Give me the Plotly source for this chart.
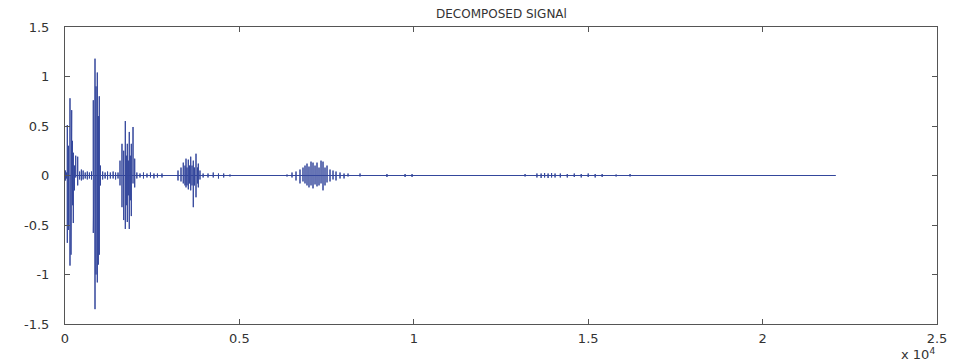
import plotly.graph_objects as go

# Signal: each spike has a sample index, top and bottom value
spike_x = [0, 15, 40, 66, 100, 143, 172, 192, 215, 238, 272, 307, 364,
           420, 470, 520, 580, 640, 700, 760,
           811, 831, 860, 889, 926, 955, 983, 1018,
           1080, 1150, 1220, 1300, 1380, 1450, 1520,
           1577, 1634, 1683, 1729, 1758, 1786, 1815, 1843, 1872, 1901, 1950, 1998,
           2060, 2150, 2250, 2350, 2450, 2550, 2650, 2780,
           3240, 3326, 3391, 3440, 3469, 3498, 3535, 3570, 3604, 3641, 3678, 3713, 3756, 3799, 3822, 3870,
           3960, 4100, 4250, 4400, 4550, 4730,
           6365, 6508, 6623, 6737, 6823, 6881, 6938, 6995, 7053, 7110, 7168, 7225, 7282, 7340, 7397,
           7454, 7512, 7598, 7684, 7770, 7885, 8000, 8114, 8458,
           9230, 9750, 9950,
           13190, 13530, 13650, 13750, 13850, 13950, 14050, 14200, 14400, 14600, 14800, 15000, 15200, 15400, 15800, 16200,
           22100]
spike_hi = [0, 0.05, 0.03, 0.51, 0.30, 0.78, 0.55, 0.66, 0.35, 0.23, 0.10, 0.20, 0.19,
            0.04, 0.06, 0.05, 0.03, 0.04, 0.03, 0.04,
            0.76, 0.50, 1.18, 0.90, 1.04, 0.60, 0.80, 0.10,
            0.04, 0.03, 0.04, 0.03, 0.04, 0.03, 0.03,
            0.15, 0.32, 0.25, 0.55, 0.20, 0.32, 0.15, 0.44, 0.20, 0.32, 0.49, 0.17,
            0.03, 0.02, 0.03, 0.02, 0.03, 0.02, 0.02, 0.02,
            0.05, 0.08, 0.13, 0.10, 0.17, 0.08, 0.16, 0.10, 0.19, 0.10, 0.15, 0.08, 0.22, 0.08, 0.12, 0.05,
            0.02, 0.02, 0.03, 0.02, 0.02, 0.01,
            0.01, 0.03, 0.04, 0.06, 0.08, 0.10, 0.12, 0.09, 0.14, 0.13, 0.10, 0.13, 0.08, 0.15, 0.14,
            0.08, 0.10, 0.06, 0.05, 0.04, 0.03, 0.02, 0.02, 0.02,
            0.015, 0.015, 0.015,
            0.015, 0.02, 0.02, 0.025, 0.02, 0.025, 0.02, 0.02, 0.015, 0.02, 0.015, 0.02, 0.015, 0.015, 0.01, 0.015,
            0]
spike_lo = [0, -0.05, -0.03, -0.68, -0.55, -0.91, -0.80, -0.74, -0.30, -0.48, -0.15, -0.02, -0.10,
            -0.04, -0.05, -0.04, -0.03, -0.04, -0.03, -0.04,
            -0.58, -0.30, -1.35, -1.00, -1.08, -0.90, -0.80, -0.10,
            -0.04, -0.03, -0.04, -0.03, -0.03, -0.04, -0.03,
            -0.10, -0.32, -0.45, -0.54, -0.30, -0.47, -0.20, -0.54, -0.25, -0.41, -0.08, -0.12,
            -0.03, -0.02, -0.03, -0.02, -0.02, -0.03, -0.02, -0.02,
            -0.05, -0.06, -0.08, -0.10, -0.12, -0.10, -0.14, -0.08, -0.15, -0.10, -0.32, -0.10, -0.22, -0.08, -0.12, -0.04,
            -0.02, -0.02, -0.02, -0.03, -0.02, -0.01,
            -0.01, -0.02, -0.05, -0.08, -0.06, -0.08, -0.10, -0.12, -0.10, -0.13, -0.09, -0.11, -0.10, -0.08, -0.15,
            -0.10, -0.07, -0.06, -0.04, -0.05, -0.03, -0.03, -0.01, -0.01,
            -0.015, -0.015, -0.015,
            -0.01, -0.02, -0.025, -0.02, -0.025, -0.02, -0.02, -0.02, -0.02, -0.015, -0.02, -0.015, -0.02, -0.015, -0.01, -0.01,
            0]

x_tick_vals = [0, 5000, 10000, 15000, 20000, 25000]
x_tick_text = ["0", "0.5", "1", "1.5", "2", "2.5"]
y_tick_vals = [-1.5, -1, -0.5, 0, 0.5, 1, 1.5]
y_tick_text = ["-1.5", "-1", "-0.5", "0", "0.5", "1", "1.5"]

# each spike: baseline -> top -> bottom -> baseline, at the same sample index
sig_x, sig_y = [], []
for xv, hi, lo in zip(spike_x, spike_hi, spike_lo):
    sig_x += [xv, xv, xv, xv]
    sig_y += [0, hi, lo, 0]

fig = go.Figure()
fig.add_trace(go.Scatter(x=sig_x, y=sig_y, mode="lines",
                         line=dict(color="#34479c", width=1), hoverinfo="skip"))

font = dict(family="DejaVu Sans, Arial, sans-serif", size=13, color="#333333")
axis_common = dict(showline=True, linecolor="#555555", linewidth=1, mirror="ticks",
                   ticks="inside", ticklen=5, tickcolor="#555555", showgrid=False,
                   zeroline=False, tickfont=font, automargin=False)

# page body has an 8px margin, so the figure is sized/placed to compensate
fig.update_layout(
    width=950, height=356,
    margin=dict(l=57, r=21, t=19, b=40),
    paper_bgcolor="white", plot_bgcolor="white",
    showlegend=False,
    xaxis=dict(range=[0, 25000], tickmode="array", tickvals=x_tick_vals, ticktext=x_tick_text,
               ticklabelstandoff=2, **axis_common),
    yaxis=dict(range=[-1.5, 1.5], tickmode="array", tickvals=y_tick_vals, ticktext=y_tick_text,
               ticklabelstandoff=12, **axis_common),
)
fig.add_annotation(text="DECOMPOSED SIGNAl", xref="paper", yref="paper", x=0.5, y=1.0,
                   xanchor="center", yanchor="bottom", yshift=4, showarrow=False,
                   font=dict(family="DejaVu Sans, Arial, sans-serif", size=12, color="#333333"))
fig.add_annotation(text="x 10<sup>4</sup>", xref="paper", yref="paper", x=1.0, y=-0.1,
                   xanchor="right", yanchor="middle", showarrow=False, font=font)

fig.write_html("out.html")
